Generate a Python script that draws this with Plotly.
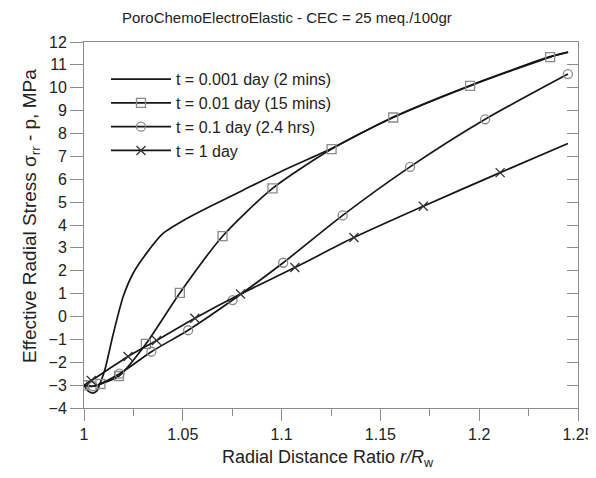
import plotly.graph_objects as go

# ---- data ----
# t = 0.001 day (line only)
x1 = [1.0, 1.002, 1.0045, 1.0065, 1.008, 1.0105, 1.0147, 1.0198, 1.0248, 1.0316, 1.040,
      1.052, 1.064, 1.08, 1.10, 1.125, 1.1565, 1.1954, 1.2359, 1.245]
y1 = [-3.0, -3.25, -3.35, -3.25, -2.95, -2.35, -0.8, 0.86, 1.88, 2.76, 3.63,
      4.28, 4.82, 5.5, 6.35, 7.33, 8.72, 10.1, 11.36, 11.56]

# t = 0.01 day (squares)
x2 = [1.0, 1.004, 1.0083, 1.0177, 1.0313, 1.0485, 1.0701, 1.0954, 1.1253, 1.1565, 1.1954, 1.2359, 1.245]
y2 = [-3.0, -3.05, -2.95, -2.6, -1.2, 1.03, 3.51, 5.6, 7.32, 8.7, 10.08, 11.34, 11.55]
m2x = [1.0, 1.0083, 1.0177, 1.0313, 1.0485, 1.0701, 1.0954, 1.1253, 1.1565, 1.1954, 1.2359]
m2y = [-3.0, -2.95, -2.6, -1.2, 1.03, 3.51, 5.6, 7.32, 8.7, 10.08, 11.34]

# t = 0.1 day (circles)
x3 = [1.0, 1.0046, 1.018, 1.0341, 1.0527, 1.0752, 1.1008, 1.1309, 1.165, 1.203, 1.2449]
y3 = [-3.0, -3.05, -2.5, -1.54, -0.6, 0.72, 2.35, 4.42, 6.54, 8.62, 10.6]
m3x = [1.0, 1.0046, 1.018, 1.0341, 1.0527, 1.0752, 1.1008, 1.1309, 1.165, 1.203, 1.2449]
m3y = [-3.0, -3.05, -2.5, -1.54, -0.6, 0.72, 2.35, 4.42, 6.54, 8.62, 10.6]

# t = 1 day (crosses)
x4 = [1.0, 1.0037, 1.0223, 1.0367, 1.0561, 1.0792, 1.1067, 1.1366, 1.1717, 1.2106, 1.2449]
y4 = [-3.0, -2.8, -1.75, -1.05, -0.08, 0.98, 2.14, 3.45, 4.82, 6.29, 7.56]
m4x = [1.0037, 1.0223, 1.0367, 1.0561, 1.0792, 1.1067, 1.1366, 1.1717, 1.2106]
m4y = [-2.8, -1.75, -1.05, -0.08, 0.98, 2.14, 3.45, 4.82, 6.29]

names = ["t = 0.001 day (2 mins)", "t = 0.01 day (15 mins)",
         "t = 0.1 day (2.4 hrs)", "t = 1 day"]

LINE = "#161616"
MK = "#8a8a8a"
LW = 1.7

fig = go.Figure()

series = [
    (x1, y1, None, None, None),
    (x2, y2, m2x, m2y, "square-open"),
    (x3, y3, m3x, m3y, "circle-open"),
    (x4, y4, m4x, m4y, "x-thin-open"),
]

for i, (lx, ly, mx, my, sym) in enumerate(series):
    g = f"g{i}"
    fig.add_trace(go.Scatter(x=lx, y=ly, mode="lines",
                             line=dict(color=LINE, width=LW, shape="spline", smoothing=0.7),
                             showlegend=False, legendgroup=g, hoverinfo="skip"))
    if mx is not None:
        mcol = "#333333" if sym.startswith("x") else MK
        fig.add_trace(go.Scatter(x=mx, y=my, mode="markers",
                                 marker=dict(symbol=sym, size=9, color=mcol, line=dict(color=mcol, width=1.3)),
                                 showlegend=False, legendgroup=g, hoverinfo="skip"))
        fig.add_trace(go.Scatter(x=[None], y=[None], mode="lines+markers", name=names[i],
                                 line=dict(color=LINE, width=LW),
                                 marker=dict(symbol=sym, size=9, color=mcol, line=dict(color=mcol, width=1.3)),
                                 legendgroup=g))
    else:
        fig.add_trace(go.Scatter(x=[None], y=[None], mode="lines", name=names[i],
                                 line=dict(color=LINE, width=LW), legendgroup=g))

# invisible trace so the right-hand tick axis is drawn
fig.add_trace(go.Scatter(x=[1.0], y=[0], yaxis="y2", mode="markers", marker=dict(opacity=0),
                         showlegend=False, hoverinfo="skip"))

AX = "#8c8c8c"
FONT = "Liberation Sans, Arial, sans-serif"
TXT = "#222222"

# the page body has an 8px margin, so the figure is 16px smaller than the window
fig.update_layout(
    width=580, height=462,
    margin=dict(l=76, r=10, t=34, b=62, autoexpand=False),
    paper_bgcolor="white", plot_bgcolor="white",
    font=dict(family=FONT, size=16, color=TXT),
    xaxis=dict(range=[1, 1.25], dtick=0.05, tick0=1, ticks="outside", ticklen=12,
               tickcolor=AX, tickwidth=1, showline=True, linecolor=AX, linewidth=1,
               mirror=True, showgrid=False, zeroline=False, automargin=False,
               tickfont=dict(size=16), ticklabeloverflow="allow",
               minor=dict(dtick=0.025, tick0=1, ticks="outside", ticklen=7, tickcolor=AX)),
    yaxis=dict(range=[-4, 12], dtick=1, tick0=0, ticks="outside", ticklen=13,
               tickcolor=AX, tickwidth=1, showline=True, linecolor=AX, linewidth=1,
               mirror=True, showgrid=False, zeroline=False, automargin=False,
               tickfont=dict(size=16)),
    yaxis2=dict(range=[-4, 12], dtick=1, tick0=0, overlaying="y", side="right", anchor="x",
                ticks="inside", ticklen=11, tickcolor=AX, showticklabels=False, automargin=False,
                showline=False, showgrid=False, zeroline=False),
    legend=dict(x=0.0445, y=0.945, xanchor="left", yanchor="top", bgcolor="rgba(0,0,0,0)",
                font=dict(size=16), tracegroupgap=0, itemwidth=60),
    showlegend=True,
    annotations=[
        dict(text="PoroChemoElectroElastic - CEC = 25 meq./100gr", xref="paper", yref="paper",
             x=(287 - 84) / 494, y=(408 - 18) / 366, xanchor="center", yanchor="middle",
             showarrow=False, font=dict(size=15, color=TXT)),
        dict(text="Radial Distance Ratio <i>r/R</i><sub>w</sub>", xref="paper", yref="paper",
             x=(328 - 84) / 494, y=(408 - 458) / 366, xanchor="center", yanchor="middle",
             showarrow=False, font=dict(size=18, color=TXT)),
        dict(text="Effective Radial Stress σ<sub>rr</sub> - p, MPa", xref="paper", yref="paper",
             x=(31 - 84) / 494, y=(408 - 216) / 366, xanchor="center", yanchor="middle",
             textangle=-90, showarrow=False, font=dict(size=19, color=TXT)),
    ],
)

fig.write_html("out.html")
